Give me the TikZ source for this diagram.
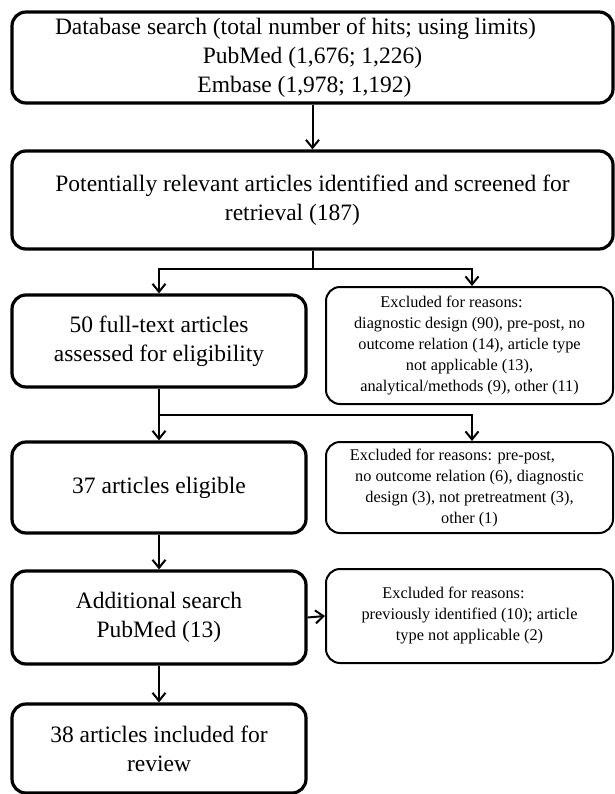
\documentclass[tikz,border=0pt]{standalone}
\usepackage{fontspec}
\setmainfont{Liberation Serif}
\usetikzlibrary{arrows.meta}
\begin{document}
\begin{tikzpicture}[x=1pt,y=-1pt,
 mainbox/.style={draw, line width=3.2pt, rounded corners=14pt, align=center, inner sep=0pt, font=\fontsize{23.5}{29}\selectfont},
 exbox/.style={draw, line width=2pt, rounded corners=14pt, align=center, inner sep=0pt, font=\fontsize{16.3}{21}\selectfont},
 conn/.style={line width=2pt},
 arr/.style={conn, -{Straight Barb[length=8pt,width=13pt]}}]
\useasboundingbox (0,0) rectangle (614,794);
\node[mainbox, minimum width=601pt, minimum height=91pt] (db) at (312.5,57.5)
  {Database search (total number of hits; using limits)\hspace*{34pt}\\PubMed (1,676; 1,226)\hspace*{16pt}\\Embase (1,978; 1,192)\hspace*{16pt}};
\node[mainbox, minimum width=601pt, minimum height=98pt] (pr) at (312.5,200)
  {Potentially relevant articles identified and screened for\\retrieval (187)\hspace*{40pt}};
\node[mainbox, minimum width=294pt, minimum height=92pt] (ft) at (159,341)
  {50 full-text articles\\assessed for eligibility};
\node[exbox, minimum width=287pt, minimum height=117pt] (ex1) at (469.5,345.5)
  {Excluded for reasons:\hspace*{36pt}\\diagnostic design (90), pre-post, no\\outcome relation (14), article type\\not applicable (13),\\analytical/methods (9), other (11)};
\node[mainbox, minimum width=294pt, minimum height=91pt] (el) at (159,487.5)
  {37 articles eligible};
\node[exbox, minimum width=287pt, minimum height=91pt] (ex2) at (469.5,487.5)
  {Excluded for reasons: pre-post,\hspace*{34pt}\\no outcome relation (6), diagnostic\\design (3), not pretreatment (3),\\other (1)};
\node[mainbox, minimum width=294pt, minimum height=93pt] (ad) at (159,617.5)
  {Additional search\\PubMed (13)};
\node[exbox, minimum width=287pt, minimum height=94pt] (ex3) at (469.5,616)
  {Excluded for reasons:\hspace*{32pt}\\previously identified (10); article\\type not applicable (2)};
\node[mainbox, minimum width=294pt, minimum height=89pt] (in) at (159,748.5)
  {38 articles included for\\review};
% connectors
\draw[arr] (db.south) -- (pr.north);
\coordinate (s1) at (312.5,269);
\coordinate (r1) at (472,269);
\draw[conn] (pr.south) -- (s1);
\draw[arr] (s1) -| (ft.north);
\draw[arr] (s1) -- (r1) -- (r1 |- ex1.north);
\coordinate (s2) at (159,415);
\coordinate (r2) at (472,415);
\draw[arr] (ft.south) -- (el.north);
\draw[arr] (s2) -- (r2) -- (r2 |- ex2.north);
\draw[arr] (el.south) -- (ad.north);
\draw[arr] (ad.east) -- (ex3.west);
\draw[arr] (ad.south) -- (in.north);
\end{tikzpicture}
\end{document}
